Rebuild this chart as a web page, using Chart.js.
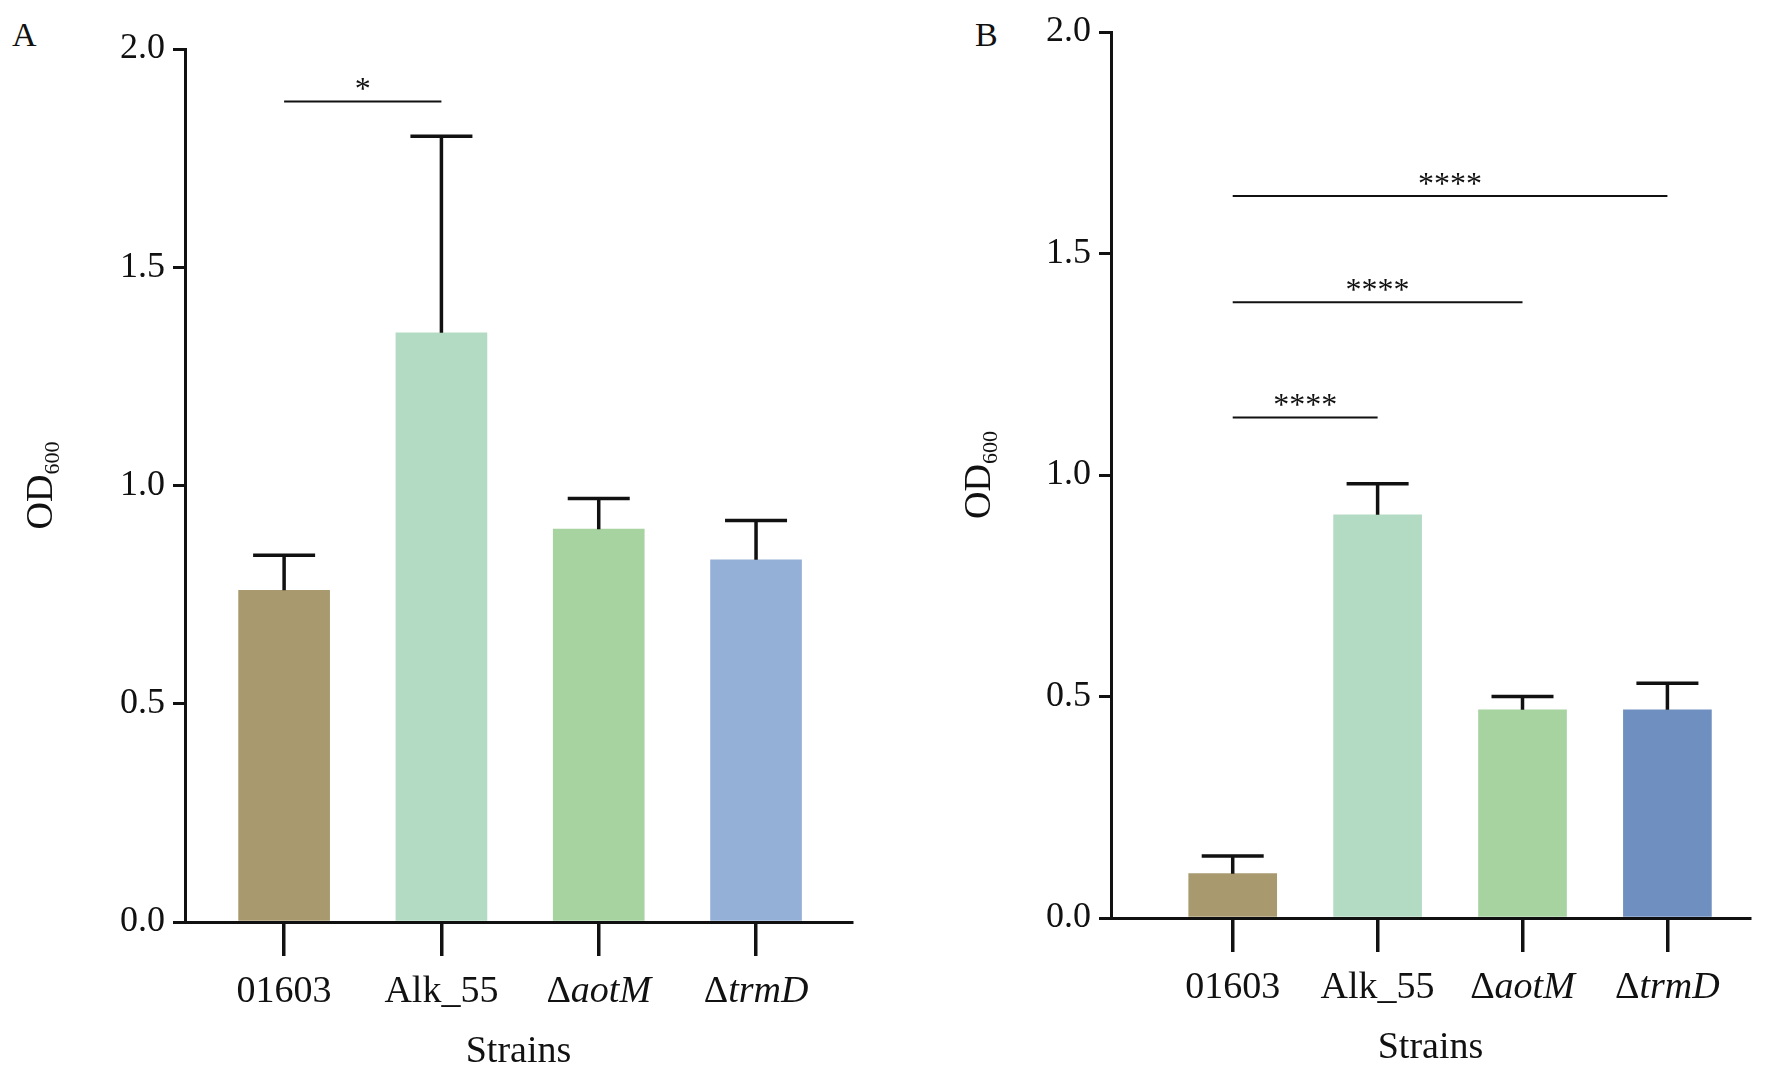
<!DOCTYPE html>
<html>
<head>
<meta charset="utf-8">
<script src="https://cdn.jsdelivr.net/npm/chart.js@4"></script>
<style>
  body { margin: 0; background: #fff; width: 1772px; height: 1078px; overflow: hidden; position: relative; }
  canvas { position: absolute; top: 0; }
  .panel { position: absolute; font-family: "Liberation Serif", serif; font-size: 34px; color: #111; }
</style>
</head>
<body>
<div class="panel" style="left:12px;top:16px">A</div>
<div class="panel" style="left:975px;top:16px">B</div>
<div style="position:absolute;left:0;width:870px;height:1078px"><canvas id="chartA"></canvas></div>
<div style="position:absolute;left:880px;width:892px;height:1078px"><canvas id="chartB"></canvas></div>
<script>
const strains = [['', '01603'], ['', 'Alk_55'], ['Δ', 'aotM'], ['Δ', 'trmD']];
const yTicks = [0, 0.5, 1.0, 1.5, 2.0];

const valuesA = [0.76, 1.35, 0.90, 0.83];
const errTopA = [0.84, 1.80, 0.97, 0.92];
const colorsA = ['#a89a6e', '#b3dbc3', '#a6d3a0', '#95b0d7'];
const sigA = [[0, 1, 1.88, '*']];

const valuesB = [0.10, 0.91, 0.47, 0.47];
const errTopB = [0.14, 0.98, 0.50, 0.53];
const colorsB = ['#a89a6e', '#b3dbc3', '#a6d3a0', '#6e8fc0'];
const sigB = [[0, 1, 1.13, '****'], [0, 2, 1.39, '****'], [0, 3, 1.63, '****']];

const serif = '"Liberation Serif", "Times New Roman", serif';

const extras = {
  id: 'extras',
  afterDatasetsDraw(chart, args, opts) {
    const {ctx} = chart;
    const x = chart.scales.x, y = chart.scales.y;
    ctx.save();
    ctx.strokeStyle = '#111';
    ctx.fillStyle = '#111';
    // error bars
    ctx.lineWidth = 3.5;
    opts.values.forEach((v, i) => {
      const cx = x.getPixelForValue(i);
      const yb = y.getPixelForValue(v), yt = y.getPixelForValue(opts.errTop[i]);
      ctx.beginPath();
      ctx.moveTo(cx, yb); ctx.lineTo(cx, yt);
      ctx.moveTo(cx - 31, yt); ctx.lineTo(cx + 31, yt);
      ctx.stroke();
    });
    // significance lines
    ctx.lineWidth = 2;
    ctx.font = '32px ' + serif;
    ctx.textAlign = 'center';
    ctx.textBaseline = 'alphabetic';
    opts.sig.forEach(([a, b, v, txt]) => {
      const x1 = x.getPixelForValue(a), x2 = x.getPixelForValue(b), py = y.getPixelForValue(v);
      ctx.beginPath(); ctx.moveTo(x1, py); ctx.lineTo(x2, py); ctx.stroke();
      ctx.fillText(txt, (x1 + x2) / 2, py - 2);
    });
    // x labels
    const fs = '38px ';
    const by = chart.chartArea.bottom;
    strains.forEach(([pre, name], i) => {
      const cx = x.getPixelForValue(i);
      const italic = pre !== '';
      ctx.font = fs + serif;
      const w1 = ctx.measureText(pre).width;
      ctx.font = (italic ? 'italic ' : '') + fs + serif;
      const w2 = ctx.measureText(name).width;
      const sx = cx - (w1 + w2) / 2;
      ctx.textAlign = 'left';
      ctx.font = fs + serif;
      ctx.fillText(pre, sx, by + opts.labelDy);
      ctx.font = (italic ? 'italic ' : '') + fs + serif;
      ctx.fillText(name, sx + w1, by + opts.labelDy);
    });
    ctx.textAlign = 'center';
    ctx.font = fs + serif;
    ctx.fillText('Strains', (chart.chartArea.left + chart.chartArea.right) / 2, by + opts.titleDy);
    // y title OD600
    ctx.translate(opts.yTitleX, (chart.chartArea.top + chart.chartArea.bottom) / 2);
    ctx.rotate(-Math.PI / 2);
    ctx.font = fs + serif;
    const wOD = ctx.measureText('OD').width;
    ctx.font = '22px ' + serif;
    const wSub = ctx.measureText('600').width;
    ctx.textAlign = 'left';
    ctx.font = fs + serif;
    ctx.fillText('OD', -(wOD + wSub) / 2, 0);
    ctx.font = '22px ' + serif;
    ctx.fillText('600', -(wOD + wSub) / 2 + wOD, 7);
    ctx.restore();
  }
};

function makeChart(id, values, errTop, colors, sig, cfg) {
  return new Chart(document.getElementById(id), {
    type: 'bar',
    data: {
      datasets: [{
        data: values.map((v, i) => ({x: i, y: v})),
        backgroundColor: colors,
        barThickness: cfg.barW,
        borderWidth: 0
      }]
    },
    plugins: [extras],
    options: {
      responsive: true,
      maintainAspectRatio: false,
      animation: false,
      layout: {padding: {top: cfg.top, right: cfg.right, left: 0, bottom: 0}},
      plugins: {
        legend: {display: false},
        tooltip: {enabled: false},
        extras: {values, errTop, sig, labelDy: cfg.labelDy, titleDy: cfg.titleDy, yTitleX: cfg.yTitleX}
      },
      scales: {
        x: {
          type: 'linear',
          offset: false,
          min: cfg.xMin, max: cfg.xMax,
          afterBuildTicks: s => { s.ticks = [0, 1, 2, 3].map(v => ({value: v})); },
          afterFit: s => { s.height = cfg.xH; },
          ticks: {display: false},
          grid: {offset: false, drawOnChartArea: false, drawTicks: true, tickLength: 34, color: '#111', lineWidth: 3.5},
          border: {color: '#111', width: 3}
        },
        y: {
          min: 0, max: 2,
          afterBuildTicks: s => { s.ticks = yTicks.map(v => ({value: v})); },
          afterFit: s => { s.width = cfg.yW; },
          ticks: {
            font: {family: serif, size: 36},
            color: '#111',
            padding: 8,
            callback: v => v.toFixed(1)
          },
          grid: {drawOnChartArea: false, drawTicks: true, tickLength: 12, color: '#111', lineWidth: 3},
          border: {color: '#111', width: 3}
        }
      }
    }
  });
}

makeChart('chartA', valuesA, errTopA, colorsA, sigA,
  {top: 49, right: 18, xH: 156, yW: 185, xMin: -0.63, xMax: 3.61, barW: 91, labelDy: 80, titleDy: 140, yTitleX: 52});
makeChart('chartB', valuesB, errTopB, colorsB, sigB,
  {top: 32, right: 22, xH: 160, yW: 231, xMin: -0.84, xMax: 3.57, barW: 88, labelDy: 80, titleDy: 140, yTitleX: 110});
</script>
</body>
</html>
